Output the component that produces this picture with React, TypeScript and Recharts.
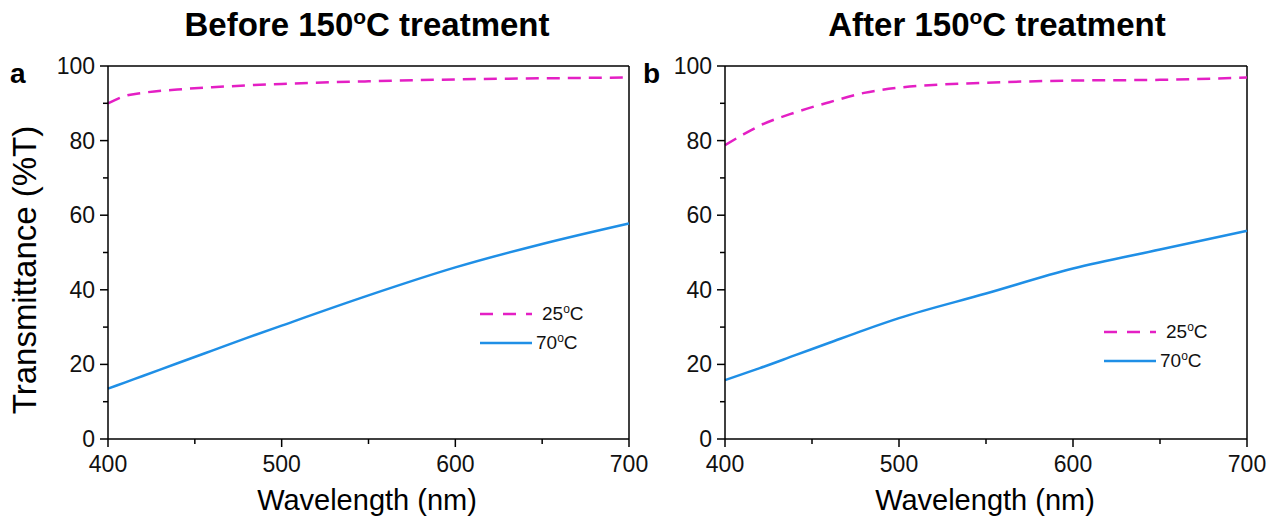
import React from "react";
import { LineChart, Line, XAxis, YAxis, ReferenceLine } from "recharts";

const wavelengths = [400, 410, 420, 440, 460, 480, 500, 550, 600, 650, 700];
const before25 = [90, 92, 92.8, 93.7, 94.3, 94.8, 95.2, 95.9, 96.4, 96.7, 96.9];
const before70 = [13.5, 15.2, 16.9, 20.3, 23.7, 27.1, 30.4, 38.5, 46, 52.3, 57.8];
const after25 = [78.8, 81.5, 84, 87.5, 90.3, 92.8, 94.2, 95.5, 96.1, 96.3, 96.9];
const after70 = [15.8, 17.4, 19, 22.4, 25.8, 29.2, 32.4, 39, 45.7, 50.8, 55.8];

const xTicks = [400, 450, 500, 550, 600, 650, 700];
const xMajor = [400, 500, 600, 700];
const yTicks = [0, 10, 20, 30, 40, 50, 60, 70, 80, 90, 100];
const yMajor = [0, 20, 40, 60, 80, 100];

const FONT = "'Liberation Sans', Arial, sans-serif";
const MAGENTA = "#e41fc4";
const BLUE = "#1f8fe6";

const XTick = (props: any) => {
  const { x, y, payload } = props;
  const major = xMajor.includes(payload.value);
  return (
    <g>
      <line x1={x} y1={y} x2={x} y2={y + (major ? 8 : 5)} stroke="#000" strokeWidth={1.5} />
      {major && (
        <text x={x} y={y + 33} textAnchor="middle" fontSize={23} fontFamily={FONT} fill="#111">
          {payload.value}
        </text>
      )}
    </g>
  );
};

const YTick = (props: any) => {
  const { x, y, payload } = props;
  const major = yMajor.includes(payload.value);
  return (
    <g>
      <line x1={x} y1={y} x2={x - (major ? 8 : 5)} y2={y} stroke="#000" strokeWidth={1.5} />
      {major && (
        <text x={x - 13} y={y + 8} textAnchor="end" fontSize={23} fontFamily={FONT} fill="#111">
          {payload.value}
        </text>
      )}
    </g>
  );
};

function Panel({ d25, d70, width, marginLeft, marginRight }: any) {
  const data = wavelengths.map((w, i) => ({ w, a: d25[i], b: d70[i] }));
  return (
    <LineChart width={width} height={524} data={data} margin={{ top: 66, right: marginRight, bottom: 55, left: marginLeft }}>
      <XAxis
        dataKey="w"
        type="number"
        domain={[400, 700]}
        ticks={xTicks}
        tickSize={0}
        tickMargin={0}
        tickLine={false}
        tick={<XTick />}
        height={30}
        stroke="#000"
        strokeWidth={1.5}
        interval={0}
      />
      <YAxis
        type="number"
        domain={[0, 100]}
        ticks={yTicks}
        tickSize={0}
        tickMargin={0}
        tickLine={false}
        tick={<YTick />}
        width={50}
        stroke="#000"
        strokeWidth={1.5}
        interval={0}
      />
      <ReferenceLine y={100} stroke="#000" strokeWidth={1.5} ifOverflow="visible" />
      <ReferenceLine x={700} stroke="#000" strokeWidth={1.5} ifOverflow="visible" />
      <Line dataKey="a" type="monotone" stroke={MAGENTA} strokeWidth={2.5} strokeDasharray="13 8" dot={false} isAnimationActive={false} />
      <Line dataKey="b" type="monotone" stroke={BLUE} strokeWidth={2.5} dot={false} isAnimationActive={false} />
    </LineChart>
  );
}

const abs = (l: number, t: number, extra: any = {}) => ({ position: "absolute" as const, left: l, top: t, ...extra });

function LegendBox({ left, top }: { left: number; top: number }) {
  const row = (dash: boolean, color: string, label: string, t: number) => (
    <div style={abs(0, t, { display: "flex", alignItems: "center", whiteSpace: "nowrap" })}>
      <svg width={56} height={10}>
        <line x1={0} y1={5} x2={52} y2={5} stroke={color} strokeWidth={2.5} strokeDasharray={dash ? "13 10" : undefined} />
      </svg>
      <span style={{ fontFamily: FONT, fontSize: 19, color: "#111", marginLeft: dash ? 6 : 0 }}>
        {label}
        <sup style={{ fontSize: 12 }}>o</sup>C
      </span>
    </div>
  );
  return (
    <div style={abs(left, top)}>
      {row(true, MAGENTA, "25", 0)}
      {row(false, BLUE, "70", 29)}
    </div>
  );
}

export default function App() {
  return (
    <div style={{ position: "absolute", left: 0, top: 0, width: 1273, height: 524, background: "#fff", overflow: "hidden" }}>
      <style>{"svg.recharts-surface{overflow:visible}"}</style>
      <div style={abs(0, 0)}>
        <Panel d25={before25} d70={before70} width={640} marginLeft={58} marginRight={11} />
      </div>
      <div style={abs(640, 0)}>
        <Panel d25={after25} d70={after70} width={633} marginLeft={35} marginRight={26} />
      </div>
      <div style={abs(107, 5, { width: 520, textAlign: "center", fontFamily: FONT, fontWeight: "bold", fontSize: 33, whiteSpace: "nowrap" })}>
        Before 150<sup style={{ fontSize: 21 }}>o</sup>C treatment
      </div>
      <div style={abs(737, 5, { width: 520, textAlign: "center", fontFamily: FONT, fontWeight: "bold", fontSize: 33, whiteSpace: "nowrap" })}>
        After 150<sup style={{ fontSize: 21 }}>o</sup>C treatment
      </div>
      <div style={abs(10, 58, { fontFamily: FONT, fontWeight: "bold", fontSize: 28 })}>a</div>
      <div style={abs(643, 58, { fontFamily: FONT, fontWeight: "bold", fontSize: 28 })}>b</div>
      <div style={abs(107, 484, { width: 520, textAlign: "center", fontFamily: FONT, fontSize: 29 })}>Wavelength (nm)</div>
      <div style={abs(725, 484, { width: 520, textAlign: "center", fontFamily: FONT, fontSize: 29 })}>Wavelength (nm)</div>
      <div
        style={abs(25 - 200, 270 - 20, {
          width: 400,
          height: 40,
          lineHeight: "40px",
          textAlign: "center",
          fontFamily: FONT,
          fontSize: 33,
          whiteSpace: "nowrap",
          transform: "rotate(-90deg)",
          transformOrigin: "200px 20px",
        })}
      >
        Transmittance (%T)
      </div>
      <LegendBox left={480} top={302} />
      <LegendBox left={1104} top={320} />
    </div>
  );
}
